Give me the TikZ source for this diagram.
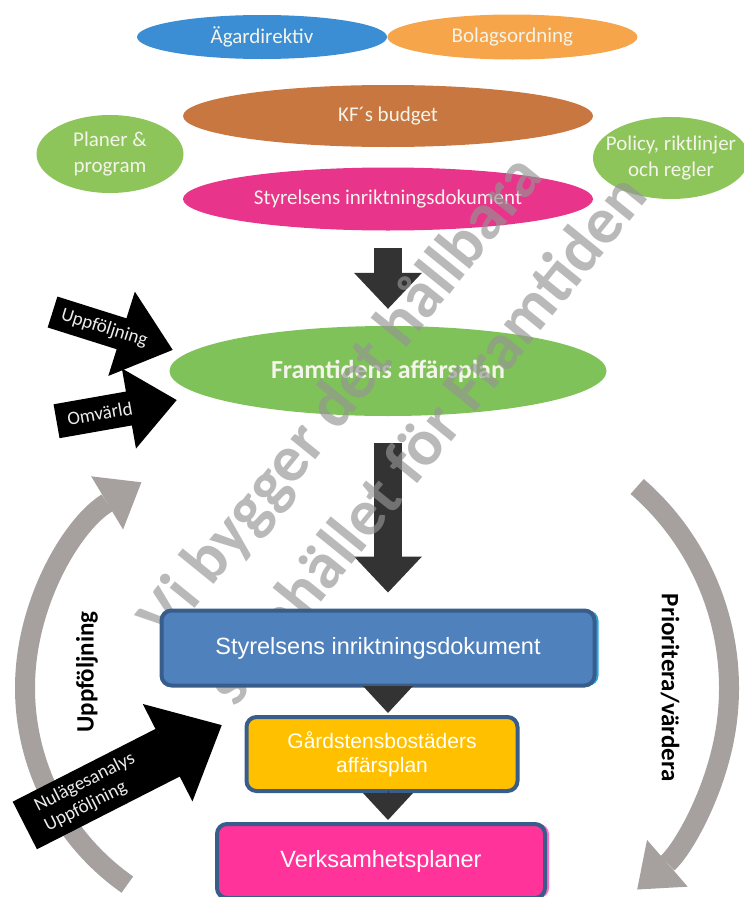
\documentclass[tikz,border=0pt]{standalone}
\usepackage{fontspec}
\setmainfont{Carlito}
\newfontfamily\boxfont{Liberation Sans}
\usepackage{xcolor}
\usepackage{tikz}
\usetikzlibrary{arrows.meta, positioning, shapes.geometric, shapes.arrows, shadows, calc, backgrounds}

\definecolor{agarblue}{HTML}{3B8ED3}
\definecolor{bolagorange}{HTML}{F6A54A}
\definecolor{kfbrown}{HTML}{C97740}
\definecolor{leafgreen}{HTML}{8DC55B}
\definecolor{styrpink}{HTML}{E8348A}
\definecolor{framgreen}{HTML}{80C25A}
\definecolor{boxblue}{HTML}{4F81BD}
\definecolor{boxedge}{HTML}{385D8A}
\definecolor{boxyellow}{HTML}{FFC000}
\definecolor{boxpink}{HTML}{FF3399}
\definecolor{glowblue}{HTML}{2FA4E4}
\definecolor{glowpink}{HTML}{FF70C8}
\definecolor{arcgray}{HTML}{A6A19E}
\definecolor{darkarrow}{HTML}{333333}
\definecolor{paletext}{HTML}{F4F4EA}

\begin{document}
\begin{tikzpicture}[
  x=1pt, y=-1pt,
  blob/.style={ellipse, inner sep=0pt, text=paletext, align=center, font=\fontsize{21}{26}\selectfont},
  planbox/.style={draw=boxedge, line width=4pt, rounded corners=10pt, text=white, inner sep=0pt, align=center, font=\boxfont\fontsize{23.5}{26}\selectfont},
  bigarrow/.style={darkarrow, line width=28pt, -{Triangle[length=36pt, width=68pt, line width=0pt]}},
  smallarrow/.style={darkarrow, line width=0.5pt, -{Triangle[length=27pt, width=50pt, line width=0pt]}, shorten <=2pt, shorten >=2pt},
  cyclearc/.style={arcgray, line width=20pt, -{Triangle[length=40pt, width=62pt, line width=0pt]}},
  blkarrow/.style={single arrow, fill=black, inner xsep=0pt, anchor=tip},
  arrowtext/.style={text=white!92!black, inner sep=0pt, font=\fontsize{19}{22}\selectfont},
  sidetext/.style={inner sep=0pt, font=\bfseries\fontsize{25}{28}\selectfont},
  watermark/.style={rotate=51, inner sep=0pt, text=black!42, text opacity=0.65, font=\bfseries\fontsize{66}{70}\selectfont}
]
\useasboundingbox (0,0) rectangle (744,897);

% top ellipses
\node[blob, fill=agarblue, minimum width=250pt, minimum height=44pt] (agar) at (262,37) {Ägardirektiv};
\node[blob, fill=bolagorange, minimum width=250pt, minimum height=45pt, right=0pt of agar] (bolag) {Bolagsordning};
\node[blob, fill=kfbrown, minimum width=410pt, minimum height=62pt] (kfbudget) at (388,116) {KF´s budget};
\node[blob, fill=leafgreen, minimum width=147pt, minimum height=78pt] (planer) at (110,154) {Planer \&\\program};
\node[blob, fill=leafgreen, minimum width=156pt, minimum height=82pt, inner xsep=-30pt] (policy) at (671,158) {Policy, riktlinjer\\och regler};
\node[blob, fill=styrpink, minimum width=410pt, minimum height=63pt] (styrdok) at (388,199) {Styrelsens inriktningsdokument};
\node[blob, fill=framgreen, minimum width=437pt, minimum height=90pt, font=\bfseries\fontsize{26}{28}\selectfont] (framtid) at (388,371) {Framtidens affärsplan};

\draw[bigarrow, shorten <=17pt, shorten >=17pt] (styrdok) -- (framtid);

% cycle arcs
\draw[cyclearc] (265,688) ++(125:240) arc[start angle=125, end angle=239, radius=240];
\draw[cyclearc] (462,688) ++(-49:267) arc[start angle=-49, end angle=49, radius=267];

% black input arrows
\node[blkarrow, minimum height=126pt, inner ysep=16pt, single arrow head extend=28pt, single arrow tip angle=79, rotate=-17.5] (upparrow) at (173,350) {};
\node[blkarrow, minimum height=122pt, inner ysep=17pt, single arrow head extend=23.5pt, single arrow tip angle=80, rotate=10] (omvarrow) at (177,400) {};
\node[blkarrow, minimum height=221pt, inner ysep=26.5pt, single arrow head extend=28pt, single arrow tip angle=84, rotate=27] (nularrow) at (222,725) {};
\node[arrowtext, rotate=-17.5] (upptext) at ($(upparrow.tail)!0.43!(upparrow.tip)$) {Uppföljning};
\node[arrowtext, rotate=10] (omvtext) at ($(omvarrow.tail)!0.36!(omvarrow.tip)$) {Omvärld};
\node[arrowtext, rotate=27, align=left] (nultext) at ($(nularrow.tail)!0.33!(nularrow.tip)$) {Nulägesanalys\\Uppföljning};

\node[sidetext, rotate=90] (uppfoljning) at (87,672) {Uppföljning};
\node[sidetext, rotate=-90] (prioritera) at (670,688) {Prioritera/värdera};

% watermark
\node[watermark] (wmone) at (342,398) {Vi bygger det hållbara};
\node[watermark] (wmtwo) at (425,438) {samhället för Framtiden};

% plan boxes
\node[planbox, fill=boxblue, minimum width=433pt, minimum height=75pt, general shadow={shadow xshift=4pt, shadow yshift=0pt, fill=glowblue}] (styrbox) at (378,648) {Styrelsens inriktningsdokument};
\node[planbox, fill=boxyellow, minimum width=271pt, minimum height=74pt, font=\boxfont\fontsize{21}{24}\selectfont] (gardsten) at (382,754) {Gårdstensbostäders\\affärsplan};
\node[planbox, fill=boxpink, minimum width=328pt, minimum height=74pt, general shadow={shadow xshift=4pt, shadow yshift=0pt, fill=glowpink}] (verksamhet) at (381,861) {Verksamhetsplaner};

\begin{scope}[on background layer]
\draw[bigarrow, shorten <=27pt, shorten >=16pt] (framtid) -- (styrbox.north -| framtid);
\end{scope}
\draw[smallarrow] (styrbox.south -| framtid) -- (gardsten.north -| framtid);
\draw[smallarrow] (gardsten.south -| framtid) -- (verksamhet.north -| framtid);

\end{tikzpicture}
\end{document}
